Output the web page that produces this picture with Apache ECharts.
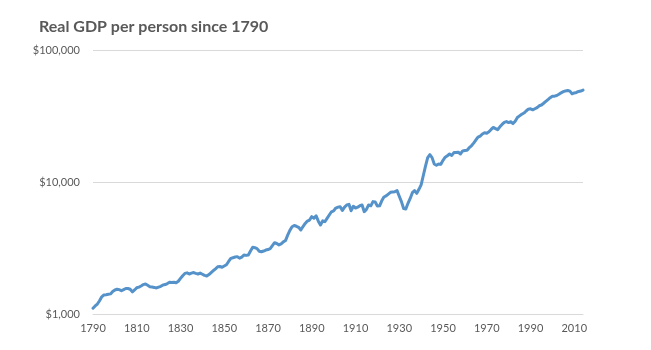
<!DOCTYPE html>
<html>
<head>
<meta charset="utf-8">
<script src="https://cdn.jsdelivr.net/npm/echarts@6/dist/echarts.min.js"></script>
<style>
  html, body { margin: 0; padding: 0; background: #ffffff; }
  #chart { width: 651px; height: 350px; }
</style>
</head>
<body>
<div id="chart"></div>
<script>
// Real GDP per person (US, constant dollars), one value per year from 1790
const startYear = 1790;
const gdpPerPerson = [
  // 1790-1799
  1105, 1150, 1190, 1260, 1350, 1395, 1400, 1410, 1420, 1480,
  // 1800-1809
  1520, 1540, 1530, 1500, 1530, 1560, 1560, 1540, 1470, 1520,
  // 1810-1819
  1580, 1600, 1630, 1670, 1690, 1650, 1610, 1600, 1590, 1575,
  // 1820-1829
  1600, 1620, 1660, 1670, 1700, 1740, 1730, 1740, 1725, 1770,
  // 1830-1839
  1860, 1950, 2030, 2050, 2010, 2040, 2060, 2030, 2010, 2040,
  // 1840-1849
  2000, 1960, 1940, 1990, 2060, 2130, 2200, 2280, 2290, 2260,
  // 1850-1859
  2310, 2360, 2500, 2640, 2670, 2700, 2720, 2650, 2700, 2800,
  // 1860-1869
  2780, 2800, 3000, 3200, 3180, 3130, 2990, 2960, 3000, 3050,
  // 1870-1879
  3080, 3130, 3300, 3470, 3420, 3340, 3400, 3520, 3600, 3960,
  // 1880-1889
  4300, 4580, 4680, 4620, 4540, 4330, 4600, 4850, 5060, 5150,
  // 1890-1899
  5460, 5320, 5550, 5050, 4720, 5080, 5000, 5300, 5620, 5950,
  // 1900-1909
  6050, 6350, 6450, 6500, 6080, 6450, 6700, 6770, 6060, 6550,
  // 1910-1919
  6350, 6450, 6620, 6700, 5960, 6200, 6700, 6600, 7100, 7050,
  // 1920-1929
  6580, 6600, 7200, 7700, 7850, 8100, 8350, 8400, 8450, 8600,
  // 1930-1939
  7800, 7100, 6300, 6250, 6900, 7500, 8300, 8600, 8200, 8800,
  // 1940-1949
  9500, 11200, 13200, 15300, 16100, 15300, 13700, 13400, 13700, 13600,
  // 1950-1959
  14600, 15400, 15800, 16300, 15900, 16700, 16700, 16800, 16300, 17200,
  // 1960-1969
  17300, 17400, 18200, 18800, 19700, 20800, 21900, 22300, 23100, 23600,
  // 1970-1979
  23400, 24000, 25000, 25900, 25400, 24900, 26200, 27300, 28300, 28700,
  // 1980-1989
  28200, 28600, 27700, 28900, 30800, 31700, 32600, 33300, 34500, 35600,
  // 1990-1999
  35900, 35200, 35900, 36600, 37800, 38300, 39500, 40800, 42100, 43500,
  // 2000-2009
  44600, 44700, 45200, 46200, 47400, 48300, 49000, 49300, 48800, 46600,
  // 2010-2014
  47300, 47700, 48500, 48900, 49700
];
const years = gdpPerPerson.map((_, i) => String(startYear + i));

const titleText = 'Real GDP per person since 1790';
const yMin = 1000;
const yMax = 100000;

const textGray = '#595959';
const gridGray = '#d9d9d9';
const lineBlue = '#5592c9';

const chart = echarts.init(document.getElementById('chart'), null, { renderer: 'canvas' });

chart.setOption({
  animation: false,
  backgroundColor: '#ffffff',
  title: {
    text: titleText,
    left: 34,
    top: 14,
    textStyle: {
      fontFamily: 'Lato',
      fontWeight: 'bold',
      fontSize: 16,
      color: textGray
    }
  },
  grid: {
    left: 93,
    right: 68,
    top: 50,
    bottom: 36,
    containLabel: false
  },
  xAxis: {
    type: 'category',
    data: years,
    boundaryGap: false,
    axisLine: { show: true, lineStyle: { color: gridGray, width: 1 } },
    axisTick: { show: false },
    axisLabel: {
      interval: 19,
      margin: 9,
      color: textGray,
      fontFamily: 'Lato',
      fontSize: 11
    },
    splitLine: { show: false }
  },
  yAxis: {
    type: 'log',
    logBase: 10,
    min: yMin,
    max: yMax,
    axisLine: { show: false },
    axisTick: { show: false },
    axisLabel: {
      margin: 13,
      color: textGray,
      fontFamily: 'Lato',
      fontSize: 11,
      formatter: v => '$' + Math.round(v).toLocaleString('en-US')
    },
    splitLine: { show: true, lineStyle: { color: gridGray, width: 1 } }
  },
  series: [{
    type: 'line',
    data: gdpPerPerson,
    showSymbol: false,
    smooth: false,
    lineStyle: { color: lineBlue, width: 3, join: 'round', cap: 'round' },
    itemStyle: { color: lineBlue }
  }]
});
</script>
</body>
</html>
